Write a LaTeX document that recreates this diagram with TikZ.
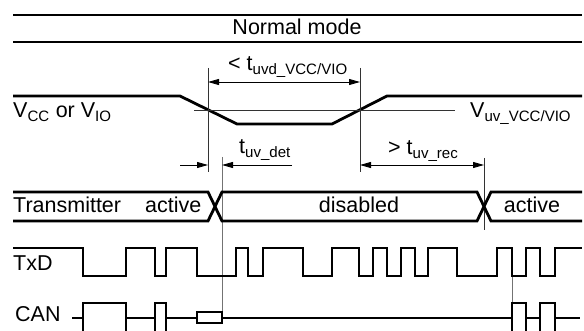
\documentclass[tikz,border=0pt]{standalone}
\usepackage{fontspec}
\setmainfont{Liberation Sans}
\usetikzlibrary{arrows.meta}

\begin{document}
\begin{tikzpicture}[
  x=1pt,y=-1pt,
  font=\fontsize{21.5}{24}\selectfont,
  lbl/.style={inner sep=0pt,anchor=base west},
  sig/.style={line width=2.8pt,line join=miter},
  thin/.style={line width=0.9pt,draw=black!80},
  tick/.style={line width=0.9pt,draw=black!55},
  dim/.style={line width=0.9pt,-{Triangle[length=11pt,width=6pt]}},
  dimm/.style={line width=0.9pt,{Triangle[length=11pt,width=6pt]}-{Triangle[length=11pt,width=6pt]}}]

\useasboundingbox (0,0) rectangle (584,331);
\clip (0,0) rectangle (584,331);

% mode band
\draw[sig] (13,15) -- (582,15);
\draw[sig] (13,42) -- (582,42);
\node[inner sep=0pt,anchor=base] (nm) at (297,35) {Normal mode};

% supply voltage
\draw[sig] (13,96) -- (180,96) -- (237,124) -- (332,124) -- (387,96) -- (582,96);
\draw[thin] (194,110) -- (455,110);
\node[lbl] (vcc) at (13,118) {V\textsubscript{CC} or V\textsubscript{IO}};
\node[lbl] (vuv) at (470,118) {V\textsubscript{uv\_VCC/VIO}};

% time marks
\coordinate (m1) at (208,82);
\coordinate (m2) at (360,82);
\coordinate (m3) at (222,165);
\coordinate (m4) at (484,165);
\coordinate (d1) at (180,165);
\coordinate (d2) at (292,165);
\draw[thin] (208,68) -- (208,172);
\draw[thin] (360,68) -- (360,172);
\draw[tick] (222,157) -- (222,312);
\draw[thin] (484,158) -- (484,230);
\draw[tick] (512,276) -- (512,303);

\draw[dimm] (m1) -- (m2);
\node[lbl] (tuvd) at (228,71) {< t\textsubscript{uvd\_VCC/VIO}};
\draw[dim] (d1) -- (208,165);
\draw[dim] (d2) -- (m3);
\node[lbl] (tdet) at (239,154) {t\textsubscript{uv\_det}};
\draw[dimm] (360,165) -- (m4);
\node[lbl] (trec) at (388,155) {> t\textsubscript{uv\_rec}};

% transmitter state
\draw[sig] (13,192) -- (208,192) -- (222,221) -- (477,221) -- (491,192) -- (582,192);
\draw[sig] (13,221) -- (208,221) -- (222,192) -- (477,192) -- (491,221) -- (582,221);
\node[lbl] (tx) at (13,213) {Transmitter};
\node[lbl] (act1) at (145,213) {active};
\node[inner sep=0pt,anchor=base] (dis) at (359,213) {disabled};
\node[inner sep=0pt,anchor=base] (act2) at (532,213) {active};

% TxD
\node[lbl] (txd) at (13,271) {TxD};
\draw[sig] (13,248) \foreach \x/\y in {83/276,126/248,155/276,166/248,197/276,236/248,
  248/276,263/248,303/276,332/248,359/276,373/248,387/276,401/248,415/276,428/248,
  457/276,497/248,512/276,526/248,540/276,555/248} { -| (\x,\y) } -- (582,248);

% CAN
\node[lbl] (can) at (15,322) {CAN};
\draw[sig] (72,318) -- (83,318) (126,318) -- (155,318) (166,318) -- (197,318)
  (222,318) -- (512,318) (526,318) -- (540,318) (555,318) -- (580,318);
\foreach \a/\b in {83/126,155/166,512/526,540/555}
  { \draw[sig] (\a,303) rectangle (\b,334); }
\draw[sig] (197,312) rectangle (222,323);
\end{tikzpicture}
\end{document}
